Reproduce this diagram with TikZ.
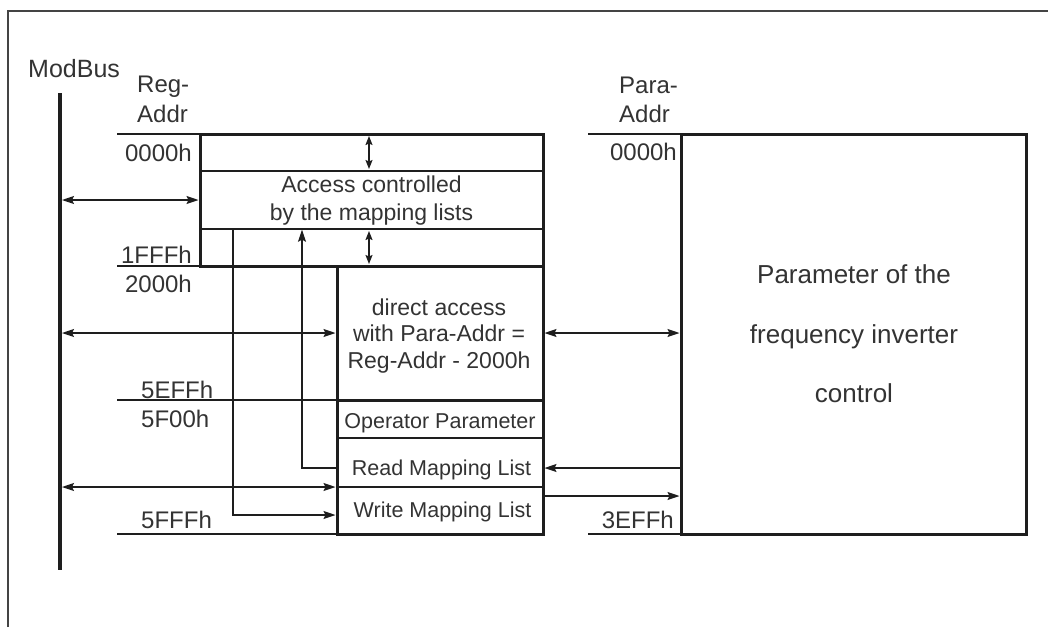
\documentclass[tikz,border=0pt]{standalone}
\usepackage{fontspec}
\setmainfont{Liberation Sans}
\usetikzlibrary{arrows.meta,calc}
\definecolor{ink}{HTML}{1E1E1E}
\definecolor{txt}{HTML}{333333}
\definecolor{framec}{HTML}{444444}
\newcommand\myfs[1]{\fontsize{#1}{#1}\selectfont}
\begin{document}
\begin{tikzpicture}[x=1pt,y=-1pt,
  hair/.style={draw=ink, line width=1.3pt},
  boxstyle/.style={draw=ink, line width=3pt, inner sep=0pt, outer sep=0pt},
  cell/.style={draw=ink, line width=1.3pt, inner sep=0pt, outer sep=0pt},
  lbl/.style={text=txt, inner sep=0pt, font=\myfs{24}},
  txtA/.style={text=txt, inner sep=0pt, font=\myfs{23}},
  txtB/.style={text=txt, inner sep=0pt, font=\myfs{21.5}},
  txtC/.style={text=txt, inner sep=0pt, font=\myfs{26}},
  arr/.style={draw=ink, line width=1.3pt, -{Stealth[length=12pt,width=8pt,inset=2pt]}, shorten >=1.5pt},
  darr/.style={draw=ink, line width=1.3pt, {Stealth[length=12pt,width=8pt,inset=2pt]}-{Stealth[length=12pt,width=8pt,inset=2pt]}, shorten >=1.5pt, shorten <=1.5pt},
  darrs/.style={draw=ink, line width=1.3pt, {Stealth[length=9pt,width=7pt,inset=1.5pt]}-{Stealth[length=9pt,width=7pt,inset=1.5pt]}, shorten >=2pt, shorten <=2pt},
]
\useasboundingbox (0,0) rectangle (1048,627);
% outer frame (open at right and bottom)
\draw[framec, line width=2pt] (8,627) -- (8,11) -- (1048,11);

% coordinates
\coordinate (bustop) at (60,93);
\coordinate (busbot) at (60,570);
\coordinate (tickL) at (117,0);
\coordinate (tickR) at (588,0);

% top box cells
\node[cell, minimum width=343pt, minimum height=37pt] (acctop) at (371.5,152.5) {};
\node[cell, minimum width=343pt, minimum height=58pt] (accmid) at (371.5,200) {};
\node[cell, minimum width=343pt, minimum height=37pt] (accbot) at (371.5,247.5) {};

% lower box cells
\node[cell, minimum width=206pt, minimum height=134pt] (direct) at (440,333) {};
\node[cell, minimum width=206pt, minimum height=38pt] (op) at (440,419) {};
\node[cell, minimum width=206pt, minimum height=49pt] (rd) at (440,462.5) {};
\node[cell, minimum width=206pt, minimum height=47pt] (wr) at (440,510.5) {};

% right box
\node[boxstyle, minimum width=345pt, minimum height=400pt] (param) at (853.5,334) {};

% address tick lines
\draw[hair] (acctop.north west -| tickL) -- (acctop.north west);
\draw[hair] (accbot.south west -| tickL) -- (direct.north west);
\draw[hair] (direct.south west -| tickL) -- (direct.south west);
\draw[hair] (wr.south west -| tickL) -- (wr.south west);
\draw[hair] (param.north west -| tickR) -- (param.north west);
\draw[hair] (param.south west -| tickR) -- (param.south west);

% bus
\draw[ink, line width=3.5pt] (bustop) -- (busbot);

% bus arrows
\draw[darr, shorten <=2pt] (bustop |- accmid.west) -- (accmid.west);
\draw[darr, shorten <=2pt] (bustop |- direct.west) -- (direct.west);
\draw[darr, shorten <=2pt] (bustop |- rd.south west) -- (rd.south west);

% vertical double arrows in the top box
\draw[darrs] ([xshift=-2.5pt]acctop.north) -- ([xshift=-2.5pt]acctop.south);
\draw[darrs] ([xshift=-2.5pt]accbot.north) -- ([xshift=-2.5pt]accbot.south);

% mapping list connectors
\coordinate (wsrc) at ($(accbot.north west)+(33,0)$);
\coordinate (wdst) at ($(wr.west)+(0,4.5)$);
\draw[arr] (wsrc) |- (wdst);
\coordinate (rsrc) at ($(rd.west)+(0,5.5)$);
\coordinate (rdst) at ($(accbot.north west)+(102,0)$);
\draw[arr, shorten >=0.7pt] (rsrc) -| (rdst);

% right side arrows
\draw[darr] (direct.east) -- (param.west |- direct.east);
\coordinate (rdE) at ($(rd.east)+(0,5.5)$);
\draw[arr] (param.west |- rdE) -- (rdE);
\coordinate (wrE) at ($(wr.east)+(0,-14.5)$);
\draw[arr] (wrE) -- (param.west |- wrE);

% thick outlines
\draw[boxstyle] (acctop.north west) rectangle (accbot.south east);
\draw[boxstyle] (direct.north west) rectangle (wr.south east);
\draw[boxstyle] (direct.south west) -- (direct.south east);

% texts
\node[txtA, anchor=base] (accT1) at (371.5,192) {Access controlled};
\node[txtA, anchor=base] (accT2) at (371.5,220) {by the mapping lists};
\node[txtA, anchor=base] (dirT1) at (439,315) {direct access};
\node[txtA, anchor=base] (dirT2) at (439,341) {with Para-Addr =};
\node[txtA, anchor=base] (dirT3) at (439,368) {Reg-Addr - 2000h};
\node[txtB, anchor=base] (opT) at (440,428) {Operator Parameter};
\node[txtB, anchor=base] (rdT) at (441.5,475) {Read Mapping List};
\node[txtB, anchor=base] (wrT) at (442.5,517) {Write Mapping List};
\node[txtC, anchor=base] (parT1) at (854,283) {Parameter of the};
\node[txtC, anchor=base] (parT2) at (854,343) {frequency inverter};
\node[txtC, anchor=base] (parT3) at (854,402) {control};

\node[text=txt, inner sep=0pt, font=\myfs{25}, anchor=base west] (modbus) at (28,77) {ModBus};
\node[lbl, anchor=base west] (regA) at (137,92) {Reg-};
\node[lbl, anchor=base west] (regB) at (137,122) {Addr};
\node[lbl, anchor=base west] (paraA) at (619,93) {Para-};
\node[lbl, anchor=base west] (paraB) at (619,122) {Addr};
\node[lbl, anchor=base east] (a0000) at (192,161) {0000h};
\node[lbl, anchor=base east] (a1FFF) at (192,263) {1FFFh};
\node[lbl, anchor=base east] (a2000) at (192,292) {2000h};
\node[lbl, anchor=base west] (a5EFF) at (141,398) {5EFFh};
\node[lbl, anchor=base west] (a5F00) at (141,427) {5F00h};
\node[lbl, anchor=base west] (a5FFF) at (141,528) {5FFFh};
\node[lbl, anchor=base east] (p0000) at (677,160) {0000h};
\node[lbl, anchor=base east] (p3EFF) at (674,528) {3EFFh};
\end{tikzpicture}
\end{document}
